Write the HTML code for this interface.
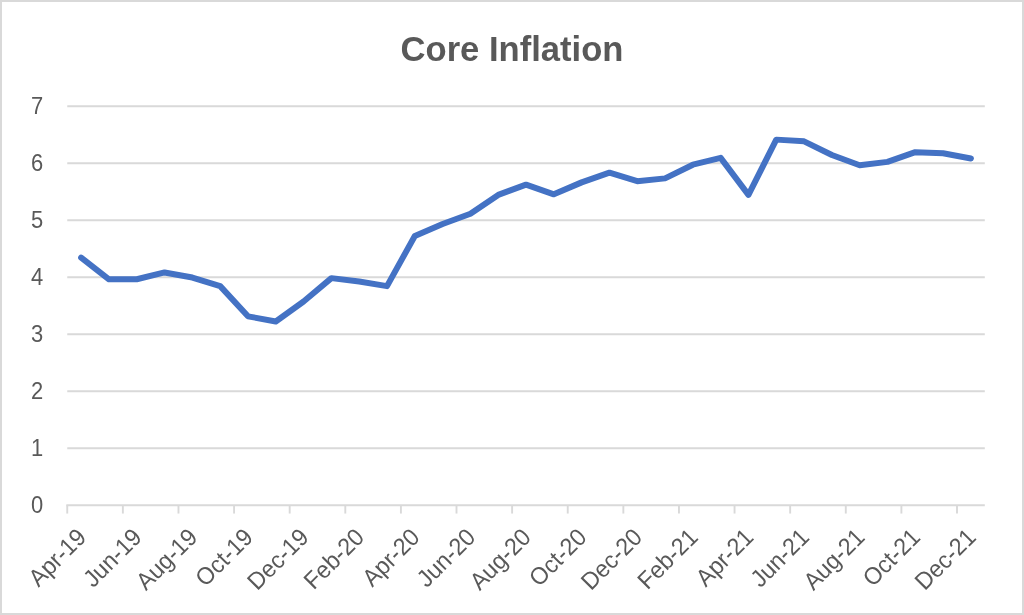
<!DOCTYPE html>
<html><head><meta charset="utf-8"><style>
html,body{margin:0;padding:0;background:#fff;}
svg{display:block;will-change:transform;font-family:"Liberation Sans", sans-serif;}
</style></head><body>
<svg width="1024" height="615" viewBox="0 0 1024 615">
<rect x="1" y="1" width="1022" height="613" fill="#fff" stroke="#d9d9d9" stroke-width="2"/>
<line x1="67.25" y1="448.25" x2="984.8" y2="448.25" stroke="#d9d9d9" stroke-width="1.9"/>
<line x1="67.25" y1="391.25" x2="984.8" y2="391.25" stroke="#d9d9d9" stroke-width="1.9"/>
<line x1="67.25" y1="334.25" x2="984.8" y2="334.25" stroke="#d9d9d9" stroke-width="1.9"/>
<line x1="67.25" y1="277.25" x2="984.8" y2="277.25" stroke="#d9d9d9" stroke-width="1.9"/>
<line x1="67.25" y1="220.25" x2="984.8" y2="220.25" stroke="#d9d9d9" stroke-width="1.9"/>
<line x1="67.25" y1="163.25" x2="984.8" y2="163.25" stroke="#d9d9d9" stroke-width="1.9"/>
<line x1="67.25" y1="106.25" x2="984.8" y2="106.25" stroke="#d9d9d9" stroke-width="1.9"/>
<line x1="66.3" y1="505.25" x2="984.8" y2="505.25" stroke="#d9d9d9" stroke-width="1.9"/>
<line x1="67.25" y1="505.25" x2="67.25" y2="513.55" stroke="#d9d9d9" stroke-width="1.9"/>
<line x1="122.86" y1="505.25" x2="122.86" y2="513.55" stroke="#d9d9d9" stroke-width="1.9"/>
<line x1="178.47" y1="505.25" x2="178.47" y2="513.55" stroke="#d9d9d9" stroke-width="1.9"/>
<line x1="234.08" y1="505.25" x2="234.08" y2="513.55" stroke="#d9d9d9" stroke-width="1.9"/>
<line x1="289.69" y1="505.25" x2="289.69" y2="513.55" stroke="#d9d9d9" stroke-width="1.9"/>
<line x1="345.30" y1="505.25" x2="345.30" y2="513.55" stroke="#d9d9d9" stroke-width="1.9"/>
<line x1="400.90" y1="505.25" x2="400.90" y2="513.55" stroke="#d9d9d9" stroke-width="1.9"/>
<line x1="456.51" y1="505.25" x2="456.51" y2="513.55" stroke="#d9d9d9" stroke-width="1.9"/>
<line x1="512.12" y1="505.25" x2="512.12" y2="513.55" stroke="#d9d9d9" stroke-width="1.9"/>
<line x1="567.73" y1="505.25" x2="567.73" y2="513.55" stroke="#d9d9d9" stroke-width="1.9"/>
<line x1="623.34" y1="505.25" x2="623.34" y2="513.55" stroke="#d9d9d9" stroke-width="1.9"/>
<line x1="678.95" y1="505.25" x2="678.95" y2="513.55" stroke="#d9d9d9" stroke-width="1.9"/>
<line x1="734.56" y1="505.25" x2="734.56" y2="513.55" stroke="#d9d9d9" stroke-width="1.9"/>
<line x1="790.17" y1="505.25" x2="790.17" y2="513.55" stroke="#d9d9d9" stroke-width="1.9"/>
<line x1="845.78" y1="505.25" x2="845.78" y2="513.55" stroke="#d9d9d9" stroke-width="1.9"/>
<line x1="901.39" y1="505.25" x2="901.39" y2="513.55" stroke="#d9d9d9" stroke-width="1.9"/>
<line x1="957.00" y1="505.25" x2="957.00" y2="513.55" stroke="#d9d9d9" stroke-width="1.9"/>
<text transform="translate(43.3,512.60) scale(0.9,1)" text-anchor="end" font-size="24.4" fill="#595959">0</text>
<text transform="translate(43.3,455.60) scale(0.9,1)" text-anchor="end" font-size="24.4" fill="#595959">1</text>
<text transform="translate(43.3,398.60) scale(0.9,1)" text-anchor="end" font-size="24.4" fill="#595959">2</text>
<text transform="translate(43.3,341.60) scale(0.9,1)" text-anchor="end" font-size="24.4" fill="#595959">3</text>
<text transform="translate(43.3,284.60) scale(0.9,1)" text-anchor="end" font-size="24.4" fill="#595959">4</text>
<text transform="translate(43.3,227.60) scale(0.9,1)" text-anchor="end" font-size="24.4" fill="#595959">5</text>
<text transform="translate(43.3,170.60) scale(0.9,1)" text-anchor="end" font-size="24.4" fill="#595959">6</text>
<text transform="translate(43.3,113.60) scale(0.9,1)" text-anchor="end" font-size="24.4" fill="#595959">7</text>
<text transform="translate(87.55,538.6) rotate(-45) scale(0.955,1)" text-anchor="end" font-size="24.2" fill="#595959">Apr-19</text>
<text transform="translate(143.16,538.6) rotate(-45) scale(0.955,1)" text-anchor="end" font-size="24.2" fill="#595959">Jun-19</text>
<text transform="translate(198.77,538.6) rotate(-45) scale(0.955,1)" text-anchor="end" font-size="24.2" fill="#595959">Aug-19</text>
<text transform="translate(254.38,538.6) rotate(-45) scale(0.955,1)" text-anchor="end" font-size="24.2" fill="#595959">Oct-19</text>
<text transform="translate(309.99,538.6) rotate(-45) scale(0.955,1)" text-anchor="end" font-size="24.2" fill="#595959">Dec-19</text>
<text transform="translate(365.60,538.6) rotate(-45) scale(0.955,1)" text-anchor="end" font-size="24.2" fill="#595959">Feb-20</text>
<text transform="translate(421.21,538.6) rotate(-45) scale(0.955,1)" text-anchor="end" font-size="24.2" fill="#595959">Apr-20</text>
<text transform="translate(476.82,538.6) rotate(-45) scale(0.955,1)" text-anchor="end" font-size="24.2" fill="#595959">Jun-20</text>
<text transform="translate(532.42,538.6) rotate(-45) scale(0.955,1)" text-anchor="end" font-size="24.2" fill="#595959">Aug-20</text>
<text transform="translate(588.03,538.6) rotate(-45) scale(0.955,1)" text-anchor="end" font-size="24.2" fill="#595959">Oct-20</text>
<text transform="translate(643.64,538.6) rotate(-45) scale(0.955,1)" text-anchor="end" font-size="24.2" fill="#595959">Dec-20</text>
<text transform="translate(699.25,538.6) rotate(-45) scale(0.955,1)" text-anchor="end" font-size="24.2" fill="#595959">Feb-21</text>
<text transform="translate(754.86,538.6) rotate(-45) scale(0.955,1)" text-anchor="end" font-size="24.2" fill="#595959">Apr-21</text>
<text transform="translate(810.47,538.6) rotate(-45) scale(0.955,1)" text-anchor="end" font-size="24.2" fill="#595959">Jun-21</text>
<text transform="translate(866.08,538.6) rotate(-45) scale(0.955,1)" text-anchor="end" font-size="24.2" fill="#595959">Aug-21</text>
<text transform="translate(921.69,538.6) rotate(-45) scale(0.955,1)" text-anchor="end" font-size="24.2" fill="#595959">Oct-21</text>
<text transform="translate(977.30,538.6) rotate(-45) scale(0.955,1)" text-anchor="end" font-size="24.2" fill="#595959">Dec-21</text>
<text transform="translate(512,60.7) scale(0.969,1)" text-anchor="middle" font-size="35.7" font-weight="bold" fill="#595959">Core Inflation</text>
<polyline points="81.15,257.62 108.96,279.28 136.76,279.28 164.57,272.44 192.37,277.57 220.18,286.12 247.98,316.33 275.78,321.46 303.59,301.51 331.39,278.14 359.20,281.56 387.00,286.12 414.81,235.96 442.61,223.99 470.42,213.73 498.22,194.92 526.02,184.66 553.83,194.35 581.63,182.38 609.44,172.69 637.24,181.24 665.05,178.39 692.85,164.71 720.66,157.87 748.46,194.92 776.27,139.63 804.07,141.34 831.88,155.02 859.68,165.28 887.48,161.86 915.29,152.17 943.09,153.31 970.90,158.44" fill="none" stroke="#4472c4" stroke-width="6.0" stroke-linejoin="round" stroke-linecap="round"/>
</svg>
</body></html>
